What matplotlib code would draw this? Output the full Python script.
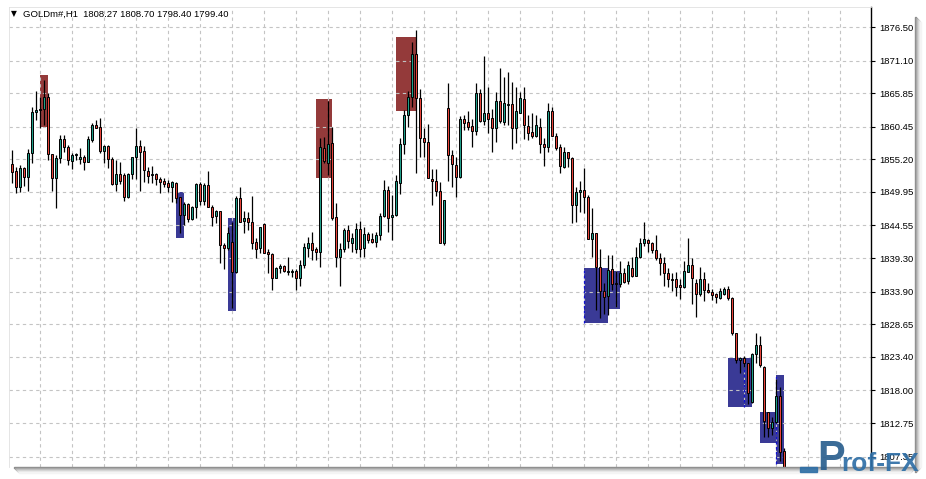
import matplotlib
matplotlib.use("Agg")
import matplotlib.pyplot as plt
from matplotlib.patches import Rectangle
import numpy as np

W, H = 926, 479
BULL = "#1f9e89"
BEAR = "#e8443a"
SUPPLY = "#943a3a"
DEMAND = "#3a3a96"
GRID = "#c4c4c4"
FONT = ["Liberation Sans", "DejaVu Sans"]

symbol = "GOLDm#,H1"
last_ohlc = [1808.27, 1808.70, 1798.40, 1799.40]

# hourly candles
opens = [
    1854.39, 1853.31, 1850.68, 1853.74, 1852.29, 1856.16, 1862.76, 1863.09, 1863.25, 1865.18,
    1856.00, 1852.13, 1855.35, 1858.41, 1857.12, 1854.97, 1855.89, 1855.19, 1855.51, 1854.76,
    1858.30, 1860.67, 1860.34, 1856.53, 1857.34, 1855.19, 1851.16, 1852.83, 1852.67, 1849.17,
    1852.83, 1855.51, 1857.34, 1856.53, 1853.31, 1852.65, 1852.78, 1851.98, 1851.66, 1851.33,
    1850.80, 1851.39, 1849.08, 1846.24, 1848.01, 1845.54, 1847.58, 1851.23, 1848.54, 1851.07,
    1847.58, 1846.08, 1846.88, 1841.41, 1840.98, 1841.84, 1837.01, 1848.92, 1845.32, 1845.70,
    1845.16, 1841.84, 1840.87, 1844.79, 1840.23, 1839.90, 1836.15, 1837.65, 1838.03, 1837.11,
    1837.01, 1837.27, 1836.15, 1838.13, 1840.87, 1841.67, 1840.71, 1840.33, 1856.97, 1854.66,
    1857.77, 1845.86, 1839.53, 1840.71, 1843.82, 1841.78, 1840.71, 1843.93, 1840.87, 1843.18,
    1842.32, 1841.94, 1843.02, 1846.07, 1850.26, 1845.86, 1846.24, 1851.44, 1857.61, 1862.33,
    1865.18, 1872.15, 1865.02, 1858.68, 1857.93, 1852.06, 1851.76, 1850.16, 1841.78, 1863.41,
    1855.90, 1854.29, 1852.30, 1861.69, 1861.26, 1860.57, 1859.81, 1865.93, 1861.42, 1862.71,
    1861.80, 1860.19, 1864.64, 1861.26, 1863.89, 1864.05, 1860.19, 1862.71, 1864.91, 1860.57,
    1859.65, 1858.96, 1860.35, 1857.67, 1857.24, 1862.98, 1858.96, 1857.24, 1854.02, 1856.33,
    1855.36, 1847.85, 1849.89, 1850.26, 1849.19, 1842.32, 1843.29, 1837.92, 1834.06, 1833.20,
    1837.49, 1835.24, 1835.13, 1836.85, 1835.66, 1837.70, 1836.47, 1839.42, 1841.78, 1842.21,
    1841.68, 1840.60, 1839.26, 1838.46, 1836.95, 1835.88, 1835.88, 1834.97, 1834.70, 1837.11,
    1838.13, 1835.34, 1833.47, 1835.88, 1834.16, 1833.89, 1833.52, 1832.82, 1833.52, 1834.27,
    1832.82, 1827.19, 1822.89, 1823.16, 1822.36, 1816.18, 1823.80, 1825.31, 1821.82, 1814.57,
    1811.89, 1812.86, 1817.10, 1808.27,
]
highs = [
    1856.70, 1854.01, 1854.28, 1853.90, 1856.80, 1863.67, 1866.20, 1865.18, 1867.97, 1865.82,
    1856.00, 1855.89, 1859.11, 1859.11, 1857.50, 1856.26, 1856.16, 1856.96, 1855.89, 1858.95,
    1860.99, 1861.52, 1861.80, 1857.50, 1857.50, 1855.62, 1855.08, 1854.76, 1852.94, 1852.94,
    1855.62, 1860.18, 1858.30, 1857.34, 1854.01, 1854.12, 1852.94, 1852.30, 1852.14, 1851.87,
    1851.71, 1851.49, 1849.19, 1848.38, 1848.11, 1847.69, 1851.33, 1851.49, 1851.33, 1853.32,
    1847.85, 1847.04, 1846.88, 1841.68, 1844.25, 1845.16, 1849.35, 1850.80, 1846.88, 1846.77,
    1849.35, 1842.48, 1844.36, 1844.89, 1840.76, 1840.07, 1837.92, 1838.29, 1838.19, 1839.42,
    1837.49, 1837.49, 1838.99, 1841.68, 1842.64, 1843.55, 1841.14, 1858.58, 1858.85, 1864.59,
    1860.45, 1848.11, 1841.67, 1844.09, 1844.63, 1843.28, 1844.89, 1845.32, 1844.36, 1843.55,
    1843.39, 1843.55, 1846.50, 1851.87, 1850.90, 1849.45, 1852.67, 1858.58, 1863.14, 1866.25,
    1874.14, 1876.02, 1866.47, 1860.19, 1860.88, 1853.60, 1853.59, 1851.60, 1848.65, 1867.43,
    1856.70, 1855.63, 1862.23, 1862.34, 1863.03, 1861.69, 1867.43, 1866.47, 1871.83, 1866.90,
    1863.25, 1866.09, 1869.85, 1868.51, 1869.31, 1867.70, 1866.90, 1866.09, 1866.79, 1862.34,
    1862.60, 1862.34, 1861.80, 1858.58, 1864.21, 1863.57, 1859.39, 1857.67, 1857.24, 1856.43,
    1855.63, 1850.69, 1851.71, 1853.75, 1849.46, 1847.31, 1843.39, 1840.71, 1835.34, 1839.80,
    1839.80, 1837.27, 1838.89, 1837.65, 1838.89, 1839.53, 1841.03, 1842.48, 1845.16, 1842.32,
    1841.94, 1843.02, 1840.07, 1839.42, 1837.65, 1836.85, 1837.11, 1835.88, 1838.89, 1842.48,
    1839.26, 1835.88, 1837.92, 1837.11, 1835.23, 1834.27, 1833.73, 1834.43, 1834.70, 1834.80,
    1833.09, 1827.29, 1823.43, 1823.54, 1822.46, 1823.97, 1827.29, 1826.76, 1821.93, 1814.57,
    1813.66, 1819.78, 1818.49, 1808.70,
]
lows = [
    1851.33, 1849.71, 1849.87, 1850.96, 1850.14, 1854.65, 1861.52, 1860.29, 1860.72, 1855.08,
    1850.09, 1847.29, 1854.54, 1856.43, 1854.28, 1853.58, 1855.08, 1854.44, 1853.47, 1854.76,
    1858.03, 1860.18, 1856.26, 1854.54, 1853.74, 1851.00, 1850.14, 1851.22, 1848.47, 1848.90,
    1851.97, 1851.97, 1850.14, 1851.60, 1851.33, 1851.40, 1851.07, 1849.72, 1850.80, 1849.99,
    1848.38, 1848.11, 1843.29, 1844.63, 1845.16, 1845.43, 1845.70, 1847.85, 1847.85, 1847.47,
    1844.52, 1845.00, 1838.46, 1837.54, 1840.60, 1831.32, 1836.85, 1845.16, 1843.29, 1843.82,
    1840.71, 1839.26, 1840.07, 1840.07, 1836.85, 1834.16, 1836.15, 1836.85, 1837.11, 1836.58,
    1836.20, 1834.16, 1834.81, 1837.65, 1839.53, 1838.99, 1838.99, 1837.81, 1854.55, 1852.67,
    1845.43, 1837.81, 1834.81, 1840.33, 1840.87, 1840.33, 1840.17, 1839.53, 1839.42, 1841.67,
    1841.67, 1841.03, 1842.21, 1845.97, 1843.55, 1842.21, 1846.07, 1849.62, 1856.06, 1860.35,
    1863.67, 1852.94, 1855.63, 1855.52, 1852.14, 1847.85, 1849.35, 1841.78, 1841.41, 1851.77,
    1850.69, 1849.08, 1852.14, 1859.92, 1859.92, 1857.13, 1859.12, 1861.26, 1860.73, 1859.39,
    1856.43, 1858.04, 1860.99, 1860.73, 1860.73, 1856.81, 1857.88, 1862.71, 1858.42, 1858.31,
    1858.58, 1858.85, 1856.17, 1854.13, 1856.43, 1858.96, 1856.70, 1852.95, 1853.75, 1854.02,
    1844.90, 1845.16, 1846.77, 1846.61, 1842.32, 1839.42, 1830.94, 1829.60, 1830.30, 1830.14,
    1834.16, 1831.48, 1834.70, 1835.24, 1835.13, 1836.31, 1836.42, 1839.26, 1841.25, 1840.33,
    1840.07, 1838.99, 1836.58, 1834.81, 1834.70, 1834.06, 1833.20, 1832.66, 1834.43, 1837.11,
    1831.91, 1829.87, 1833.20, 1832.44, 1833.62, 1832.55, 1832.01, 1832.71, 1833.36, 1832.55,
    1826.92, 1822.36, 1820.85, 1821.82, 1815.81, 1816.02, 1822.36, 1821.82, 1810.44, 1810.55,
    1810.82, 1812.70, 1806.69, 1798.40,
]
closes = [
    1853.21, 1850.68, 1853.74, 1852.29, 1856.16, 1862.76, 1863.14, 1863.30, 1865.18, 1856.00,
    1852.13, 1855.35, 1858.41, 1857.12, 1855.08, 1855.89, 1855.94, 1855.51, 1854.76, 1858.41,
    1860.67, 1860.29, 1856.53, 1857.34, 1855.19, 1851.16, 1852.83, 1851.75, 1849.17, 1852.83,
    1855.51, 1857.34, 1856.43, 1853.47, 1852.56, 1852.80, 1851.98, 1851.60, 1851.17, 1850.80,
    1851.49, 1848.92, 1846.24, 1848.01, 1845.54, 1847.58, 1851.23, 1848.54, 1851.07, 1847.58,
    1845.97, 1846.88, 1841.41, 1840.98, 1843.29, 1837.01, 1848.92, 1845.16, 1845.70, 1845.16,
    1841.68, 1840.71, 1844.25, 1840.07, 1840.01, 1836.15, 1837.65, 1838.03, 1837.27, 1837.17,
    1837.27, 1836.15, 1838.13, 1841.03, 1841.68, 1840.60, 1840.33, 1857.24, 1854.98, 1857.61,
    1845.70, 1839.53, 1840.71, 1843.82, 1842.10, 1842.48, 1843.93, 1840.71, 1843.18, 1842.21,
    1841.94, 1843.02, 1846.07, 1850.26, 1845.70, 1846.24, 1851.71, 1857.61, 1862.33, 1865.18,
    1872.15, 1865.02, 1858.58, 1857.93, 1852.14, 1851.69, 1850.15, 1841.78, 1848.65, 1855.90,
    1854.45, 1852.30, 1861.69, 1861.10, 1860.46, 1859.81, 1865.93, 1861.42, 1862.71, 1861.69,
    1860.19, 1864.64, 1861.42, 1864.32, 1864.05, 1860.19, 1862.98, 1865.13, 1860.73, 1859.49,
    1858.96, 1860.73, 1857.61, 1857.24, 1862.98, 1858.96, 1857.08, 1854.13, 1856.43, 1855.36,
    1847.85, 1849.89, 1850.26, 1849.19, 1842.32, 1843.29, 1837.92, 1834.06, 1833.09, 1837.38,
    1835.13, 1835.13, 1836.95, 1835.50, 1838.13, 1836.47, 1839.42, 1841.68, 1842.32, 1841.68,
    1840.60, 1839.26, 1838.56, 1836.95, 1835.88, 1835.77, 1834.70, 1834.70, 1837.22, 1838.13,
    1836.04, 1833.47, 1835.88, 1834.16, 1833.89, 1833.36, 1833.09, 1834.05, 1834.27, 1832.82,
    1827.19, 1822.89, 1823.16, 1822.36, 1817.63, 1823.80, 1825.31, 1822.09, 1813.13, 1811.89,
    1812.86, 1817.10, 1808.14, 1799.40,
]

# supply / demand zones (bar index from, bar index to, top price, bottom price)
zone_start = [7, 41, 54, 76, 96, 143, 143, 179, 187, 191]
zone_end = [9, 43, 56, 80, 101, 149, 152, 185, 191, 193]
zone_top = [1868.77, 1849.99, 1845.75, 1864.91, 1874.94, 1837.70, 1837.27, 1823.22, 1814.52, 1820.48]
zone_bottom = [1860.45, 1842.49, 1830.78, 1852.24, 1862.98, 1828.85, 1831.15, 1815.38, 1809.58, 1806.15]
zone_kind = ["supply", "demand", "demand", "supply", "supply",
             "demand", "demand", "demand", "demand", "demand"]

# dashed blue marker lines inside some demand zones
mark_idx = [143, 183, 191]
mark_top = [1837.70, 1821.55, 1820.30]
mark_bottom = [1828.85, 1815.38, 1806.15]

price_ticks = [1876.50, 1871.10, 1865.85, 1860.45, 1855.20, 1849.95, 1844.55,
               1839.30, 1833.90, 1828.65, 1823.40, 1818.00, 1812.75, 1807.35]


def px(x, y):
    return x / W, 1 - y / H


def main():
    fig = plt.figure(figsize=(W / 100, H / 100), dpi=100)
    fig.patch.set_facecolor("white")

    # window shadow (right and bottom)
    shades = ["#8c8c8c", "#a4a4a4", "#bcbcbc", "#d2d2d2", "#e6e6e6", "#f4f4f4"]
    for k, col in enumerate(shades):
        fig.patches.append(Rectangle(px(915 + k, 467 + 5 - k), 1 / W, (455 - 2 * k) / H,
                                     transform=fig.transFigure, color=col, zorder=0))
        fig.patches.append(Rectangle(px(14 + k, 467 + k + 1), (901 - 2 * k) / W, 1 / H,
                                     transform=fig.transFigure, color=col, zorder=0))

    ax = fig.add_axes([9 / W, 1 - 467 / H, 862 / W, 460 / H])
    ax.set_facecolor("white")
    ax.set_xlim(-0.825, 214.675)
    ax.set_ylim(1805.67, 1879.72)

    # grid on top of zones, under candles
    for k in range(7, 215, 8):
        ax.axvline(k, color=GRID, lw=0.8, ls=(0, (3, 3)), zorder=1.5)
    for p in price_ticks:
        ax.axhline(p, color=GRID, lw=0.8, ls=(0, (3, 3)), zorder=1.5)

    for s, e, t, b, kind in zip(zone_start, zone_end, zone_top, zone_bottom, zone_kind):
        col = SUPPLY if kind == "supply" else DEMAND
        ax.add_patch(Rectangle((s, b), e - s, t - b, facecolor=col, edgecolor="none", zorder=1))

    ax.vlines(mark_idx, mark_bottom, mark_top, color="#1010d0", lw=0.9,
              linestyles=(0, (2, 2)), zorder=2)

    x = np.arange(len(opens))
    o = np.array(opens)
    c = np.array(closes)
    up = c >= o
    ax.vlines(x, lows, highs, color="black", lw=0.9, zorder=3)
    ax.bar(x, np.maximum(np.abs(c - o), 0.1), bottom=np.minimum(o, c), width=0.55,
           color=np.where(up, BULL, BEAR), edgecolor="black", linewidth=0.7, zorder=4)

    for side in ["top", "left"]:
        ax.spines[side].set_color("#e0e0e0")
        ax.spines[side].set_linewidth(0.6)
    ax.spines["bottom"].set_visible(False)
    ax.spines["right"].set_color("black")
    ax.spines["right"].set_linewidth(1.0)

    ax.set_xticks([])
    ax.yaxis.tick_right()
    ax.set_yticks(price_ticks)
    ax.set_yticklabels([f"{p:.2f}" for p in price_ticks], family=FONT, fontsize=6.8)
    ax.tick_params(axis="y", direction="out", length=3, width=0.8, pad=3, colors="black")

    # header
    fig.text(*px(11, 14), "\u25bc", family=["DejaVu Sans"], fontsize=5.5, va="center", ha="left")
    fig.text(*px(23, 14), f"{symbol}  " + " ".join(f"{v:.2f}" for v in last_ohlc),
             family=FONT, fontsize=6.8, va="center", ha="left")

    # watermark logo (sits over the lowest price label, as in the original)
    blue = "#2f6fa6"
    fig.patches.append(Rectangle(px(800, 472), 17 / W, 5 / H, transform=fig.transFigure,
                                 color=blue, alpha=0.9, zorder=10))
    fig.text(*px(817, 470), "P", family=FONT, fontsize=30, fontweight="bold",
             color="#2a5f8e", alpha=0.92, va="baseline", ha="left", zorder=10)
    fig.text(*px(841, 471), "rof-FX", family=FONT, fontsize=19, fontweight="bold",
             color=blue, alpha=0.92, va="baseline", ha="left", zorder=10)

    fig.savefig("out.png", dpi=100, facecolor="white")


if __name__ == "__main__":
    main()
